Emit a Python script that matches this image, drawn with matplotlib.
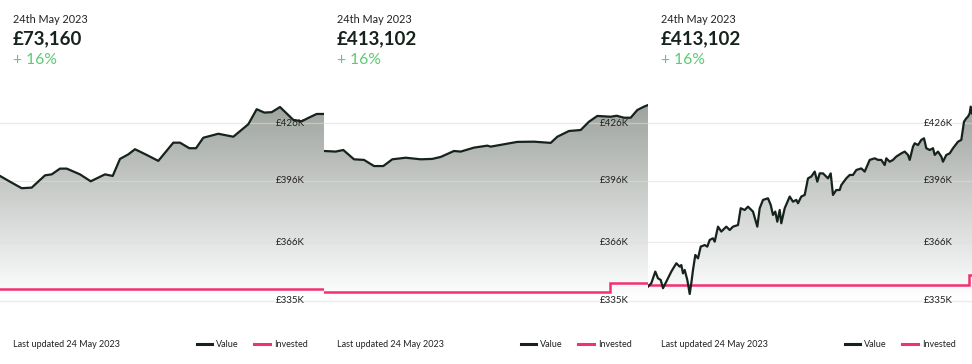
import numpy as np
import matplotlib
matplotlib.use('Agg')
import matplotlib.pyplot as plt
from matplotlib.colors import LinearSegmentedColormap
from matplotlib.lines import Line2D

# ---- data (x = days into period, values in £K) ----
days_1 = [0, 10, 21.7, 31.7, 45, 51.7, 60, 66.7, 80, 90.7,
          105, 112.7, 120, 128.3, 135, 146.7, 158.3, 173.3, 180, 189.3,
          196, 203.3, 218.3, 233.3, 248.3, 256.7, 264.3, 271.7, 280, 293.3,
          301.7, 308.3, 316.7, 324]
value_1 = [399.4, 396.5, 393.2, 393.5, 399.7, 400.2, 403.1, 403.1, 400.2, 396.7,
           400.2, 399.4, 408.0, 410.3, 412.9, 410.0, 407.0, 416.2, 416.2, 413.4,
           413.4, 418.7, 420.7, 419.2, 425.5, 433.1, 431.4, 431.6, 434.2, 427.7,
           427.0, 428.7, 430.7, 430.7]
inv_days_1 = [0, 324]
invested_1 = [342.3, 342.3]

days_2 = [0, 11.7, 19.3, 30, 40, 50, 59.3, 68.3, 81.7, 96.7,
          108.3, 116.7, 130, 136.7, 150, 163.3, 166.7, 180, 193.3, 210,
          226.7, 233.3, 245, 256.7, 265, 273.3, 286.7, 292.7, 300, 306.7,
          313.3, 320, 324]
value_2 = [412.0, 411.7, 412.5, 407.8, 407.5, 404.4, 404.4, 407.8, 408.6, 407.8,
           408.0, 409.0, 412.0, 411.7, 413.7, 414.7, 414.2, 415.4, 416.6, 416.7,
           416.1, 419.2, 422.1, 422.6, 426.8, 429.7, 429.3, 429.8, 428.8, 428.8,
           432.7, 434.4, 435.2]
inv_days_2 = [0, 286, 324]
invested_2 = [341.0, 345.5, 345.5]

days_3 = [0, 3.3, 7.3, 10, 12.7, 15, 18.3, 23.3, 28.3, 31.7,
          33.3, 35, 36.7, 39.3, 41.7, 43.3, 45, 47.3, 50, 52.7,
          56.7, 59.3, 61.7, 65, 66.7, 70, 73.3, 78.3, 81.7, 85,
          90, 92.7, 96.7, 100, 105, 109.3, 111.7, 115, 120, 122.7,
          125, 127.3, 129.3, 131.7, 133.3, 136.7, 141.7, 145, 148.3, 150,
          153.3, 156.7, 160, 163.3, 166.7, 169.3, 171.7, 175, 180, 182.7,
          185, 188.3, 191.7, 193.3, 198.3, 201.7, 205, 208.3, 213.3, 216.7,
          221.7, 226.7, 230, 233.3, 236.7, 238.3, 241.7, 245, 248.3, 253.3,
          256.7, 260, 261.7, 265, 266.7, 270, 273.3, 276, 278.3, 281.7,
          285, 286.7, 290, 293.3, 295, 298.3, 301.7, 305, 310, 313.3,
          316, 318.3, 320, 321.7, 322.7, 324]
value_3 = [343.5, 345.2, 351.1, 347.7, 346.9, 342.7, 346.0, 351.1, 355.3, 353.6,
           354.4, 350.2, 351.9, 346.9, 339.8, 345.2, 351.9, 359.5, 357.8, 363.7,
           364.5, 363.7, 367.1, 367.9, 366.2, 373.8, 371.3, 373.8, 372.1, 373.8,
           374.6, 383.1, 382.2, 383.9, 381.4, 373.8, 383.1, 387.3, 388.1, 384.8,
           379.7, 381.4, 376.3, 382.2, 375.5, 383.1, 389.0, 386.4, 387.3, 385.6,
           389.0, 389.8, 398.2, 399.1, 401.6, 396.5, 400.7, 400.7, 398.2, 400.7,
           389.8, 392.3, 392.3, 394.8, 398.2, 399.9, 399.9, 402.4, 403.2, 401.6,
           407.5, 408.3, 407.5, 407.5, 404.9, 408.3, 406.6, 407.5, 409.2, 410.8,
           411.7, 410.0, 407.5, 414.2, 415.9, 415.0, 417.6, 418.4, 413.4, 412.5,
           413.4, 410.0, 411.7, 409.2, 406.6, 410.0, 410.8, 413.4, 416.7, 417.6,
           426.8, 428.5, 429.4, 431.0, 434.4, 431.0]
inv_days_3 = [0, 320.7, 324]
invested_3 = [344.3, 349.4, 349.4]

headline = ["£73,160", "£413,102", "£413,102"]
change = ["+ 16%", "+ 16%", "+ 16%"]
date_label = "24th May 2023"
updated_label = "Last updated 24 May 2023"

grid_values = [336.3, 365.9, 396.9, 426.0]
tick_labels = ["£335K", "£366K", "£396K", "£426K"]

panels = [
    (days_1, value_1, inv_days_1, invested_1),
    (days_2, value_2, inv_days_2, invested_2),
    (days_3, value_3, inv_days_3, invested_3),
]

DARK = "#16231c"
PINK = "#f2316f"
GREEN = "#5ccb72"
TEXT = "#222222"
W, H = 972, 364
PW = 324
Y_TOP, Y_BOT = 442.8, 331.7

plt.rcParams['font.family'] = ['Lato', 'DejaVu Sans']
fig = plt.figure(figsize=(W / 100, H / 100), dpi=100)
fig.patch.set_facecolor('white')

cmap = LinearSegmentedColormap.from_list('fade', ['#979d98', '#ffffff'])
grad = np.linspace(0, 1, 256).reshape(-1, 1)


def fx(px):
    return px / W


def fy(py):
    return 1 - py / H


for i, (d, v, idays, inv) in enumerate(panels):
    left = i * PW
    ax = fig.add_axes([fx(left), fy(310), PW / W, 220 / H])
    ax.set_xlim(0, 324)
    ax.set_ylim(Y_BOT, Y_TOP)
    ax.axis('off')

    # gradient fill under the value line
    fill = ax.fill_between(d, v, Y_BOT, color='none', lw=0)
    im = ax.imshow(grad, cmap=cmap, aspect='auto', extent=[0, 324, 337.5, Y_TOP],
                   zorder=1, interpolation='bilinear')
    im.set_clip_path(fill.get_paths()[0], transform=ax.transData)

    for g in grid_values:
        ax.axhline(g, color='#dcdcdc', alpha=0.55, lw=1.0, zorder=2)

    ax.plot(idays, inv, color=PINK, lw=1.8, drawstyle='steps-post', zorder=3,
            solid_joinstyle='miter')
    ax.plot(d, v, color=DARK, lw=1.6, zorder=4, solid_joinstyle='round')

    for g, lab in zip(grid_values, tick_labels):
        ax.text(305, g, lab, ha='right', va='center', fontsize=7, color=TEXT, zorder=5)

    # header texts
    fig.text(fx(left + 13), fy(23), date_label, fontsize=7.8, color=TEXT, va='baseline')
    fig.text(fx(left + 13), fy(44.5), headline[i], fontsize=13.5, fontweight='bold',
             color=DARK, va='baseline')
    fig.text(fx(left + 13), fy(64), change[i], fontsize=11.3, color=GREEN, va='baseline')

    # footer
    fig.text(fx(left + 13), fy(347), updated_label, fontsize=6.5, color=TEXT, va='baseline')
    fig.add_artist(Line2D([fx(left + 197), fx(left + 212)], [fy(343.5), fy(343.5)],
                          color=DARK, lw=2.2))
    fig.text(fx(left + 216), fy(347), "Value", fontsize=6.5, color=TEXT, va='baseline')
    fig.add_artist(Line2D([fx(left + 254), fx(left + 270)], [fy(343.5), fy(343.5)],
                          color=PINK, lw=2.2))
    fig.text(fx(left + 274), fy(347), "Invested", fontsize=6.5, color=TEXT, va='baseline')

plt.savefig("out.png", dpi=100, facecolor='white')
plt.close()
